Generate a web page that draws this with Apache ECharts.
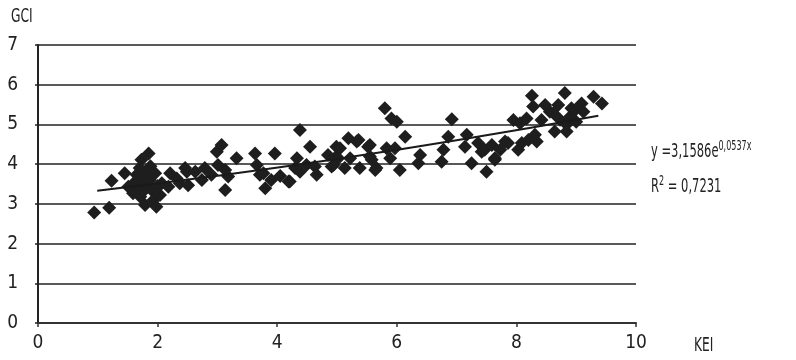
<!DOCTYPE html>
<html>
<head>
<meta charset="utf-8">
<script src="https://cdn.jsdelivr.net/npm/echarts@6/dist/echarts.min.js"></script>
<style>
  html, body { margin: 0; padding: 0; background: #fff; }
  #chart { width: 796px; height: 360px; }
</style>
</head>
<body>
<div id="chart"></div>
<script>
// KEI (x) and GCI (y)
const kei = [0.94,1.19,1.23,1.45,1.51,1.59,1.65,1.68,1.71,1.73,1.76,1.79,1.82,1.82,1.85,1.87,1.90,1.93,1.96,1.98,2.04,2.07,1.62,1.75,1.88,1.70,2.00,2.18,2.21,2.32,2.37,2.46,2.49,2.51,2.63,2.74,2.79,2.90,2.99,3.01,3.07,3.13,3.13,3.18,3.32,3.63,3.66,3.71,3.77,3.80,3.90,3.96,4.05,4.19,4.21,4.30,4.33,4.38,4.38,4.49,4.55,4.63,4.66,4.85,4.91,4.94,4.99,4.99,5.02,5.05,5.13,5.19,5.22,5.33,5.36,5.38,5.52,5.55,5.55,5.58,5.64,5.66,5.80,5.83,5.89,5.91,5.97,6.00,6.05,6.14,6.36,6.39,6.75,6.78,6.86,6.92,7.14,7.17,7.25,7.36,7.42,7.47,7.50,7.59,7.64,7.64,7.73,7.81,7.86,7.95,8.03,8.09,8.06,8.17,8.20,8.26,8.28,8.31,8.34,8.42,8.48,8.56,8.62,8.64,8.70,8.73,8.81,8.84,8.84,8.90,8.92,8.98,9.00,9.09,9.12,9.29,9.43];
const gci = [2.78,2.90,3.58,3.77,3.43,3.27,3.73,3.43,3.18,4.11,3.60,2.97,3.81,3.43,4.27,3.60,3.35,3.10,3.77,2.93,3.22,3.52,3.55,3.30,3.95,3.90,3.45,3.43,3.77,3.64,3.52,3.90,3.81,3.47,3.81,3.60,3.90,3.73,4.31,3.98,4.48,3.85,3.35,3.69,4.15,4.27,3.98,3.73,3.77,3.39,3.60,4.27,3.70,3.56,3.56,3.90,4.15,4.86,3.81,3.98,4.44,3.94,3.73,4.23,3.94,3.98,4.44,4.19,4.15,4.40,3.90,4.65,4.15,4.57,4.61,3.90,4.44,4.48,4.19,4.11,3.85,3.90,5.41,4.40,4.15,5.15,4.40,5.07,3.85,4.69,4.02,4.23,4.06,4.36,4.69,5.13,4.44,4.74,4.02,4.53,4.31,4.36,3.81,4.48,4.15,4.11,4.36,4.57,4.53,5.11,4.36,4.53,5.03,5.15,4.61,5.72,5.45,4.74,4.57,5.11,5.49,5.32,5.28,4.82,5.49,5.12,5.79,5.00,4.82,5.20,5.41,5.36,5.07,5.53,5.32,5.70,5.53];

// trend line points
const trendX = [0.99, 3, 5, 7, 9.37];
const trendY = [3.33, 3.71, 4.13, 4.60, 5.22];

const xTicks = [0, 2, 4, 6, 8, 10];
const yTicks = [0, 1, 2, 3, 4, 5, 6, 7];

const font = '"DejaVu Sans Condensed", "Liberation Sans Narrow", sans-serif';

const chart = echarts.init(document.getElementById('chart'), null, { renderer: 'canvas' });

const option = {
  animation: false,
  backgroundColor: '#fff',
  textStyle: { fontFamily: font, color: '#222' },
  grid: { left: 38, right: 160, top: 45, bottom: 37 },
  xAxis: {
    type: 'value',
    min: xTicks[0],
    max: xTicks[xTicks.length - 1],
    interval: 2,
    axisLine: { show: true, lineStyle: { color: '#333', width: 2 } },
    axisTick: { show: true, length: 4, lineStyle: { color: '#333', width: 1.5 } },
    axisLabel: { color: '#222', fontSize: 19, fontFamily: font, margin: 11 },
    splitLine: { show: false }
  },
  yAxis: {
    type: 'value',
    min: yTicks[0],
    max: yTicks[yTicks.length - 1],
    interval: 1,
    axisLine: { show: true, lineStyle: { color: '#222', width: 2 } },
    axisTick: { show: true, length: 3, lineStyle: { color: '#222', width: 1.5 } },
    axisLabel: { color: '#222', fontSize: 19, fontFamily: font, margin: 20 },
    splitLine: { show: true, lineStyle: { color: '#222', width: 1.5 } }
  },
  series: [
    {
      type: 'scatter',
      symbol: 'diamond',
      symbolSize: 14,
      itemStyle: { color: '#1e1e1e', opacity: 1 },
      data: kei.map((x, i) => [x, gci[i]]),
      z: 2
    },
    {
      type: 'line',
      showSymbol: false,
      smooth: true,
      lineStyle: { color: '#1a1a1a', width: 2 },
      data: trendX.map((x, i) => [x, trendY[i]]),
      z: 3
    }
  ],
  // condensed look for the free texts
  graphic: [
    { type: 'text', x: 11, y: 7, scaleX: 0.68, style: { text: 'GCI', font: '20px ' + font, fill: '#222' } },
    { type: 'text', x: 694, y: 336, scaleX: 0.68, style: { text: 'KEI', font: '20px ' + font, fill: '#222' } },
    {
      type: 'text', x: 651, y: 140, scaleX: 0.64,
      style: {
        text: '{a|y =3,1586e}{s|0,0537x}',
        rich: {
          a: { font: '20px ' + font, fill: '#222', lineHeight: 24 },
          s: { font: '14px ' + font, fill: '#222', lineHeight: 24, padding: [0, 0, 11, 0] }
        }
      }
    },
    {
      type: 'text', x: 651, y: 175, scaleX: 0.64,
      style: {
        text: '{a|R}{s|2}{a| = 0,7231}',
        rich: {
          a: { font: '20px ' + font, fill: '#222', lineHeight: 24 },
          s: { font: '14px ' + font, fill: '#222', lineHeight: 24, padding: [0, 0, 11, 0] }
        }
      }
    }
  ]
};

chart.setOption(option);
</script>
</body>
</html>
